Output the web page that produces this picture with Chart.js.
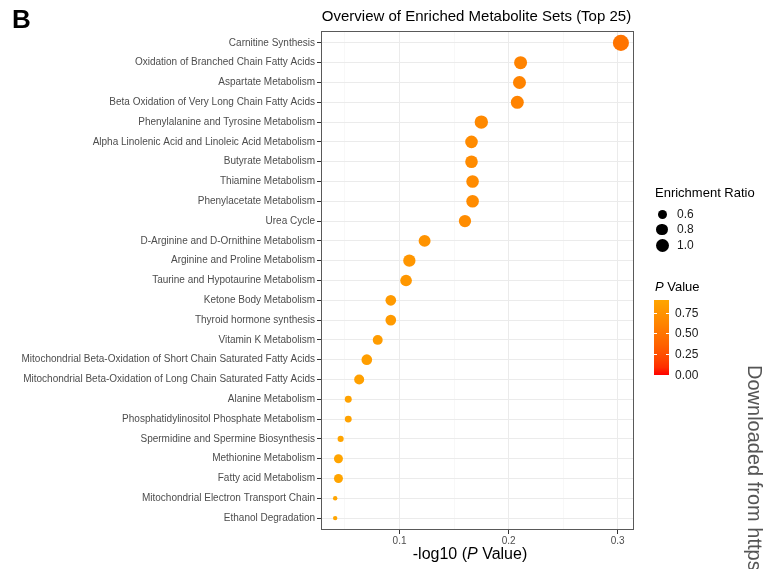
<!DOCTYPE html>
<html>
<head>
<meta charset="utf-8">
<script src="https://cdn.jsdelivr.net/npm/chart.js@4"></script>
<style>
  body { margin: 0; width: 771px; height: 569px; overflow: hidden; background: #fff;
         font-family: "Liberation Sans", Arial, sans-serif; position: relative; }
  #wrap { position: absolute; left: 0; top: 0; width: 771px; height: 569px; }
  .txt { position: absolute; white-space: nowrap; }
</style>
</head>
<body>
<div id="wrap"><canvas id="dotChart" width="771" height="569"></canvas></div>

<div class="txt" style="left:12px; top:6px; font-size:26px; line-height:26px; font-weight:bold;">B</div>
<div class="txt" style="left:321px; width:311px; top:7px; text-align:center; font-size:15px; color:#000;">Overview of Enriched Metabolite Sets (Top 25)</div>
<div class="txt" style="left:321px; width:298px; top:545px; text-align:center; font-size:16px; color:#000;">-log10 (<i>P</i> Value)</div>
<div class="txt" style="left:744px; top:365px; font-size:20px; line-height:22px; color:#555; writing-mode:vertical-rl;">Downloaded from https://</div>

<div id="legend"></div>

<script>
// ---- data ----
const categories = [
  'Carnitine Synthesis',
  'Oxidation of Branched Chain Fatty Acids',
  'Aspartate Metabolism',
  'Beta Oxidation of Very Long Chain Fatty Acids',
  'Phenylalanine and Tyrosine Metabolism',
  'Alpha Linolenic Acid and Linoleic Acid Metabolism',
  'Butyrate Metabolism',
  'Thiamine Metabolism',
  'Phenylacetate Metabolism',
  'Urea Cycle',
  'D-Arginine and D-Ornithine Metabolism',
  'Arginine and Proline Metabolism',
  'Taurine and Hypotaurine Metabolism',
  'Ketone Body Metabolism',
  'Thyroid hormone synthesis',
  'Vitamin K Metabolism',
  'Mitochondrial Beta-Oxidation of Short Chain Saturated Fatty Acids',
  'Mitochondrial Beta-Oxidation of Long Chain Saturated Fatty Acids',
  'Alanine Metabolism',
  'Phosphatidylinositol Phosphate Metabolism',
  'Spermidine and Spermine Biosynthesis',
  'Methionine Metabolism',
  'Fatty acid Metabolism',
  'Mitochondrial Electron Transport Chain',
  'Ethanol Degradation'
];
const negLogP = [0.303, 0.211, 0.210, 0.208, 0.175, 0.166, 0.166, 0.167, 0.167, 0.160,
                 0.123, 0.109, 0.106, 0.092, 0.092, 0.080, 0.070, 0.063, 0.053, 0.053,
                 0.046, 0.044, 0.044, 0.041, 0.041];
const enrichment = [1.40, 1.00, 1.00, 1.00, 1.05, 0.95, 0.95, 0.95, 0.95, 0.92,
                    0.88, 0.92, 0.85, 0.75, 0.75, 0.68, 0.75, 0.69, 0.45, 0.45,
                    0.40, 0.60, 0.60, 0.32, 0.32];
const xTicks = [0.05, 0.1, 0.15, 0.2, 0.25, 0.3];
const xMajor = [0.1, 0.2, 0.3];
const sizeBreaks = [0.6, 0.8, 1.0];
const pBreaks = [0, 0.25, 0.5, 0.75];

// ---- scales ----
const pValues = negLogP.map(v => Math.pow(10, -v));
const pMax = Math.max(...pValues);

function sizeScale(er) {
  return Math.sqrt(Math.max(55 * er - 12.75, 1));
}

// red -> orange, interpolated in Lab like ggplot
function toLab(rgb) {
  const lin = c => { c /= 255; return c <= 0.04045 ? c / 12.92 : Math.pow((c + 0.055) / 1.055, 2.4); };
  const [R, G, B] = rgb.map(lin);
  const X = (0.4124 * R + 0.3576 * G + 0.1805 * B) / 0.95047;
  const Y = 0.2126 * R + 0.7152 * G + 0.0722 * B;
  const Z = (0.0193 * R + 0.1192 * G + 0.9505 * B) / 1.08883;
  const f = t => t > 0.008856 ? Math.cbrt(t) : 7.787 * t + 16 / 116;
  return [116 * f(Y) - 16, 500 * (f(X) - f(Y)), 200 * (f(Y) - f(Z))];
}
function fromLab([L, a, b]) {
  const fy = (L + 16) / 116, fx = fy + a / 500, fz = fy - b / 200;
  const inv = t => t * t * t > 0.008856 ? t * t * t : (t - 16 / 116) / 7.787;
  const X = inv(fx) * 0.95047, Y = inv(fy), Z = inv(fz) * 1.08883;
  const R = 3.2406 * X - 1.5372 * Y - 0.4986 * Z;
  const G = -0.9689 * X + 1.8758 * Y + 0.0415 * Z;
  const B = 0.0557 * X - 0.2040 * Y + 1.0570 * Z;
  const g = c => { c = c <= 0.0031308 ? 12.92 * c : 1.055 * Math.pow(c, 1 / 2.4) - 0.055; return Math.round(Math.min(1, Math.max(0, c)) * 255); };
  return 'rgb(' + g(R) + ',' + g(G) + ',' + g(B) + ')';
}
const labLow = toLab([255, 0, 0]);
const labHigh = toLab([255, 165, 0]);
function colorScale(p) {
  const t = Math.min(1, Math.max(0, p / pMax));
  return fromLab(labLow.map((v, i) => v + (labHigh[i] - v) * t));
}

// ---- chart ----
const points = negLogP.map((v, i) => ({ x: v, y: i + 1 }));
const isMajor = v => xMajor.some(m => Math.abs(m - v) < 1e-9);

const panelBorder = {
  id: 'panelBorder',
  afterDatasetsDraw(chart) {
    const a = chart.chartArea, ctx = chart.ctx;
    ctx.save();
    ctx.strokeStyle = '#595959';
    ctx.lineWidth = 1;
    ctx.strokeRect(Math.round(a.left) + 0.5, Math.round(a.top) + 0.5,
                   Math.round(a.right - a.left) - 1, Math.round(a.bottom - a.top) - 1);
    ctx.restore();
  }
};

const axisFont = { family: '"Liberation Sans", Arial, sans-serif', size: 10 };

new Chart(document.getElementById('dotChart'), {
  type: 'scatter',
  data: {
    datasets: [{
      data: points,
      pointRadius: enrichment.map(sizeScale),
      pointHoverRadius: enrichment.map(sizeScale),
      backgroundColor: pValues.map(colorScale),
      borderWidth: 0
    }]
  },
  options: {
    responsive: false,
    animation: false,
    devicePixelRatio: 1,
    layout: { padding: { left: 0, top: 31, right: 137, bottom: 0 } },
    plugins: { legend: { display: false }, tooltip: { enabled: false } },
    scales: {
      x: {
        type: 'linear',
        min: 0.028,
        max: 0.315,
        afterBuildTicks: s => { s.ticks = xTicks.map(v => ({ value: v })); },
        afterFit: s => { s.height = 39; },
        ticks: {
          autoSkip: false,
          maxRotation: 0,
          padding: 1,
          color: '#4d4d4d',
          font: axisFont,
          callback: v => isMajor(v) ? v.toFixed(1) : ''
        },
        grid: {
          color: c => isMajor(c.tick.value) ? '#ebebeb' : '#f3f3f3',
          lineWidth: c => isMajor(c.tick.value) ? 1 : 0.6,
          tickLength: 4,
          tickColor: c => isMajor(c.tick.value) ? '#333' : 'rgba(0,0,0,0)'
        },
        border: { display: false }
      },
      y: {
        type: 'linear',
        reverse: true,
        min: 0.4,
        max: 25.6,
        afterBuildTicks: s => { s.ticks = categories.map((_, i) => ({ value: i + 1 })); },
        afterFit: s => { s.width = 321; },
        ticks: {
          autoSkip: false,
          padding: 2,
          color: '#4d4d4d',
          font: axisFont,
          callback: v => categories[v - 1]
        },
        grid: { color: '#ebebeb', lineWidth: 1, tickLength: 4, tickColor: '#333' },
        border: { display: false }
      }
    }
  },
  plugins: [panelBorder]
});

// ---- legends ----
const legend = document.getElementById('legend');
let html = '<div class="txt" style="left:655px; top:185px; font-size:13px;">Enrichment Ratio</div>';
const sizeY = [214, 229.5, 245];
sizeBreaks.forEach((b, i) => {
  const r = sizeScale(b);
  html += '<div style="position:absolute; left:' + (662 - r) + 'px; top:' + (sizeY[i] - r) + 'px; width:' + (2 * r) +
          'px; height:' + (2 * r) + 'px; border-radius:50%; background:#000;"></div>';
  html += '<div class="txt" style="left:677px; top:' + (sizeY[i] - 7.5) + 'px; font-size:12px; color:#1a1a1a;">' + b.toFixed(1) + '</div>';
});
html += '<div class="txt" style="left:655px; top:279px; font-size:13px;"><i>P</i> Value</div>';
const barTop = 300, barBottom = 375;
const stops = [];
for (let k = 0; k <= 10; k++) stops.push(colorScale(pMax * k / 10) + ' ' + (k * 10) + '%');
html += '<div style="position:absolute; left:654px; top:' + barTop + 'px; width:15px; height:' + (barBottom - barTop) +
        'px; background:linear-gradient(to top,' + stops.join(',') + ');"></div>';
pBreaks.forEach(b => {
  const y = barBottom - (barBottom - barTop) * b / pMax;
  html += '<div style="position:absolute; left:654px; top:' + (y - 0.5) + 'px; width:3px; height:1px; background:#fff;"></div>';
  html += '<div style="position:absolute; left:666px; top:' + (y - 0.5) + 'px; width:3px; height:1px; background:#fff;"></div>';
  html += '<div class="txt" style="left:675px; top:' + (y - 7.5) + 'px; font-size:12px; color:#1a1a1a;">' + b.toFixed(2) + '</div>';
});
legend.innerHTML = html;
</script>
</body>
</html>
